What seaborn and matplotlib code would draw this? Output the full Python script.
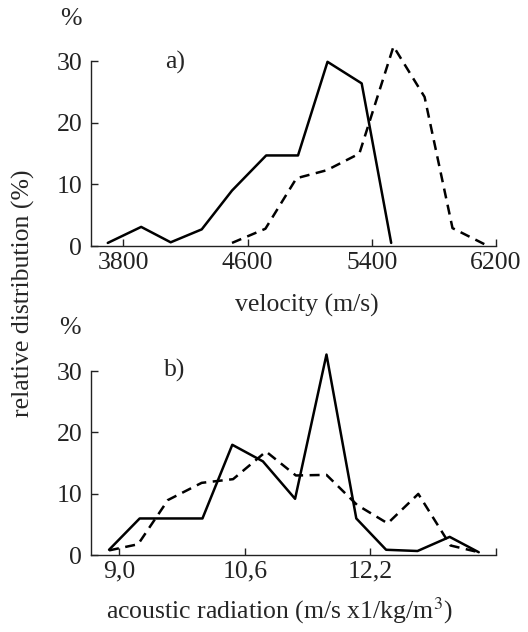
import numpy as np
import pandas as pd
import matplotlib
matplotlib.use("Agg")
import matplotlib.pyplot as plt
import seaborn as sns

# panel a) velocity distribution
vel_solid_x = [3700, 3915, 4105, 4305, 4500, 4720, 4925, 5115, 5335, 5525]
vel_solid_y = [0.5, 3.1, 0.6, 2.7, 9.0, 14.7, 14.7, 29.9, 26.4, 0.5]
vel_dash_x = [4500, 4715, 4915, 5110, 5320, 5540, 5740, 5920, 6125]
vel_dash_y = [0.5, 2.8, 11.0, 12.3, 15.0, 32.4, 24.2, 2.9, 0.3]
vel_ticks = [3800, 4600, 5400, 6200]
vel_ticklabels = ["3800", "4600", "5400", "6200"]

# panel b) acoustic radiation distribution
ac_solid_x = [8.87, 9.26, 10.06, 10.44, 10.83, 11.24, 11.64, 12.02, 12.40, 12.80, 13.21, 13.58]
ac_solid_y = [0.9, 6.0, 6.0, 18.0, 15.3, 9.2, 32.7, 6.0, 0.9, 0.7, 3.0, 0.5]
ac_dash_x = [8.87, 9.24, 9.62, 10.05, 10.45, 10.87, 11.25, 11.64, 12.03, 12.42, 12.81, 13.22, 13.58]
ac_dash_y = [0.8, 1.8, 9.0, 11.8, 12.4, 16.9, 13.0, 13.1, 8.2, 5.2, 10.0, 1.6, 0.5]
ac_ticks = [9.0, 10.6, 12.2, 13.8]
ac_ticklabels = ["9,0", "10,6", "12,2", ""]

y_ticks = [0, 10, 20, 30]

sns.set_theme(style="ticks")
plt.rcParams['font.family'] = ['Liberation Serif', 'DejaVu Serif']
plt.rcParams['mathtext.fontset'] = 'stix'

FS = 18.5
W, H = 528, 632
fig = plt.figure(figsize=(W / 100, H / 100), dpi=100)


def px_axes(left, right, bottom, top):
    return fig.add_axes([left / W, 1 - bottom / H, (right - left) / W, (bottom - top) / H])


def make_df(sx, sy, dx, dy):
    a = pd.DataFrame({"x": sx, "y": sy, "series": "solid"})
    b = pd.DataFrame({"x": dx, "y": dy, "series": "dashed"})
    return pd.concat([a, b], ignore_index=True)


def style_axis(ax, xlim, ticks, labels, xlabel, label_xy):
    ax.set_xlim(*xlim)
    ax.set_ylim(0, 34)
    ax.set_xticks(ticks)
    ax.set_xticklabels(labels)
    ax.set_yticks(y_ticks)
    ax.set_yticklabels([str(t) for t in y_ticks])
    ax.spines['top'].set_visible(False)
    ax.spines['right'].set_visible(False)
    ax.spines['left'].set_bounds(0, 30)
    for s in ['left', 'bottom']:
        ax.spines[s].set_linewidth(1.0)
        ax.spines[s].set_color('#222222')
    ax.tick_params(direction='in', length=5, width=1.0, labelsize=FS, colors='#222222')
    ax.tick_params(axis='x', pad=4)
    ax.tick_params(axis='y', pad=6)
    ax.set_xlabel(xlabel, fontsize=FS, va='center')
    ax.xaxis.set_label_coords(*label_xy)
    ax.set_ylabel("")


dashes = {"solid": "", "dashed": (4, 2.6)}

# top panel
ax1 = px_axes(90.7, 496, 246, 246 - 34 * 6.16)
df1 = make_df(vel_solid_x, vel_solid_y, vel_dash_x, vel_dash_y)
sns.lineplot(data=df1, x="x", y="y", style="series", dashes=dashes, color="black",
             linewidth=1.8, sort=False, legend=False, ax=ax1, clip_on=False)
style_axis(ax1, (3590, 6200), vel_ticks, vel_ticklabels, "velocity (m/s)",
           ((307 - 90.7) / 405.3, (246 - 305) / (34 * 6.16)))

# bottom panel
ax2 = px_axes(90.7, 496, 555.3, 555.3 - 34 * 6.14)
df2 = make_df(ac_solid_x, ac_solid_y, ac_dash_x, ac_dash_y)
sns.lineplot(data=df2, x="x", y="y", style="series", dashes=dashes, color="black",
             linewidth=1.8, sort=False, legend=False, ax=ax2, clip_on=False)
style_axis(ax2, (8.636, 13.8), ac_ticks, ac_ticklabels, "acoustic radiation (m/s x1/kg/m$^3$)",
           ((279 - 90.7) / 405.3, (555.3 - 611) / (34 * 6.14)))

# annotations
fig.text(71 / W, 1 - 19 / H, "%", fontsize=FS, ha='center', va='center')
fig.text(70 / W, 1 - 328 / H, "%", fontsize=FS, ha='center', va='center')
fig.text(175 / W, 1 - 62 / H, "a)", fontsize=FS, ha='center', va='center')
fig.text(175 / W, 1 - 370 / H, "b)", fontsize=FS, ha='center', va='center')
fig.text(23 / W, 1 - 293.5 / H, "relative distribution (%)", fontsize=FS,
         rotation=90, ha='center', va='center')

fig.savefig("out.png", dpi=100, facecolor='white')
